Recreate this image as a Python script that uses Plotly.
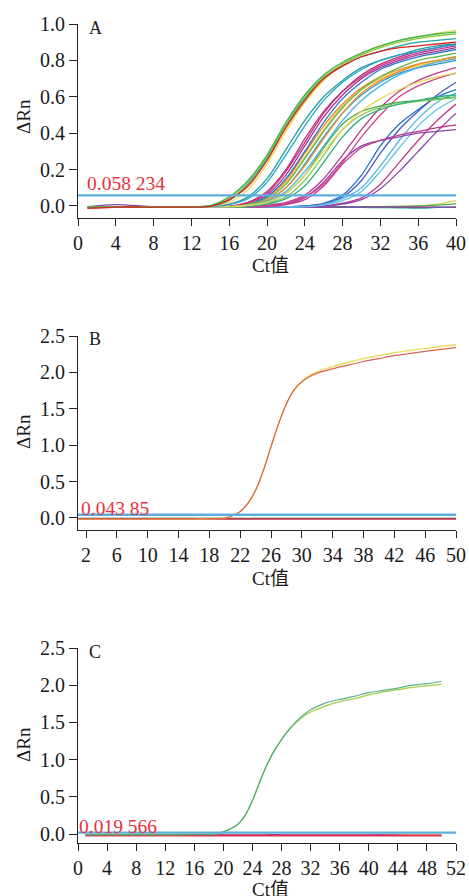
import plotly.graph_objects as go

W, H = 469, 896
OFF = 0

# ---------------- Panel A data ----------------
A_CYCLES = [1, 4, 8, 12, 14, 16, 18, 20, 22, 24, 26, 28, 30, 32, 34, 36, 38, 40]
A_CURVES = [
    # flat (negative) wells
    [-0.010, -0.006, -0.006, -0.006, -0.006, -0.006, -0.006, -0.005, -0.005, -0.005, -0.005, -0.004, -0.004, -0.004, -0.003, 0.000, 0.010, 0.030],
    [-0.006, -0.005, -0.005, -0.005, -0.005, -0.005, -0.005, -0.005, -0.005, -0.005, -0.004, -0.004, -0.004, -0.003, -0.002, 0.000, 0.005, 0.012],
    [-0.012, -0.007, -0.007, -0.008, -0.008, -0.008, -0.008, -0.008, -0.008, -0.008, -0.008, -0.008, -0.008, -0.008, -0.008, -0.008, -0.008, -0.008],
    [-0.005, -0.004, -0.004, -0.005, -0.005, -0.005, -0.005, -0.006, -0.006, -0.006, -0.006, -0.007, -0.008, -0.009, -0.010, -0.012, -0.008, -0.006],
    [-0.004, 0.008, -0.004, -0.005, -0.005, -0.005, -0.005, -0.006, -0.006, -0.006, -0.006, -0.006, -0.006, -0.006, -0.006, -0.006, -0.006, -0.006],
    # latest magenta / purple
    [-0.005, -0.005, -0.005, -0.005, -0.005, -0.005, -0.005, -0.005, -0.005, -0.005, 0.000, 0.015, 0.045, 0.120, 0.240, 0.360, 0.470, 0.560],
    [-0.005, -0.005, -0.005, -0.005, -0.005, -0.005, -0.005, -0.005, -0.005, -0.005, -0.002, 0.010, 0.035, 0.095, 0.190, 0.300, 0.410, 0.510],
    # late blue group
    [-0.005, -0.005, -0.005, -0.005, -0.005, -0.005, -0.005, -0.005, -0.005, 0.000, 0.015, 0.060, 0.170, 0.330, 0.450, 0.530, 0.600, 0.640],
    [-0.005, -0.005, -0.005, -0.005, -0.005, -0.005, -0.005, -0.005, -0.005, 0.000, 0.012, 0.050, 0.140, 0.290, 0.420, 0.520, 0.610, 0.680],
    [-0.005, -0.005, -0.005, -0.005, -0.005, -0.005, -0.005, -0.005, -0.005, -0.004, 0.008, 0.040, 0.100, 0.220, 0.360, 0.480, 0.570, 0.620],
    [-0.005, -0.005, -0.005, -0.005, -0.005, -0.005, -0.005, -0.005, -0.005, -0.004, 0.006, 0.030, 0.080, 0.190, 0.320, 0.440, 0.530, 0.590],
    # 0.4 plateau purple / magenta
    [-0.005, -0.005, -0.005, -0.005, -0.005, -0.005, -0.005, -0.004, 0.010, 0.045, 0.130, 0.250, 0.330, 0.360, 0.380, 0.400, 0.410, 0.420],
    [-0.005, -0.005, -0.005, -0.005, -0.005, -0.005, -0.005, -0.004, 0.008, 0.035, 0.110, 0.230, 0.320, 0.360, 0.390, 0.410, 0.430, 0.445],
    # late magenta
    [-0.005, -0.005, -0.005, -0.005, -0.005, -0.005, -0.004, 0.004, 0.020, 0.060, 0.150, 0.280, 0.420, 0.540, 0.630, 0.690, 0.730, 0.760],
    [-0.005, -0.005, -0.005, -0.005, -0.005, -0.005, -0.004, 0.000, 0.015, 0.050, 0.120, 0.240, 0.380, 0.500, 0.600, 0.660, 0.700, 0.730],
    # green 0.6 plateau
    [-0.005, -0.005, -0.005, -0.005, -0.005, -0.005, 0.000, 0.020, 0.070, 0.170, 0.320, 0.450, 0.520, 0.550, 0.570, 0.580, 0.590, 0.600],
    [-0.005, -0.005, -0.005, -0.005, -0.005, -0.005, -0.002, 0.015, 0.050, 0.140, 0.280, 0.420, 0.500, 0.540, 0.560, 0.575, 0.585, 0.595],
    [-0.005, -0.005, -0.005, -0.005, -0.005, -0.005, -0.003, 0.010, 0.040, 0.110, 0.240, 0.380, 0.480, 0.530, 0.560, 0.580, 0.600, 0.610],
    # middle group
    [-0.005, -0.005, -0.005, -0.005, -0.005, -0.002, 0.020, 0.080, 0.200, 0.370, 0.520, 0.630, 0.710, 0.770, 0.810, 0.840, 0.860, 0.880],
    [-0.005, -0.005, -0.005, -0.005, -0.005, -0.002, 0.015, 0.060, 0.170, 0.330, 0.490, 0.610, 0.700, 0.760, 0.800, 0.830, 0.850, 0.870],
    [-0.005, -0.005, -0.005, -0.005, -0.005, -0.003, 0.010, 0.050, 0.140, 0.290, 0.440, 0.560, 0.650, 0.710, 0.750, 0.780, 0.800, 0.820],
    [-0.005, -0.005, -0.005, -0.005, -0.005, -0.003, 0.010, 0.040, 0.130, 0.270, 0.420, 0.550, 0.640, 0.700, 0.740, 0.770, 0.790, 0.810],
    [-0.005, -0.005, -0.005, -0.005, -0.005, -0.003, 0.010, 0.050, 0.150, 0.300, 0.460, 0.590, 0.680, 0.750, 0.790, 0.820, 0.840, 0.860],
    [-0.005, -0.005, -0.005, -0.005, -0.005, -0.004, 0.005, 0.030, 0.100, 0.230, 0.380, 0.510, 0.610, 0.680, 0.730, 0.760, 0.780, 0.800],
    [-0.005, -0.005, -0.005, -0.005, -0.005, -0.003, 0.010, 0.040, 0.120, 0.260, 0.410, 0.540, 0.640, 0.710, 0.760, 0.800, 0.820, 0.840],
    [-0.005, -0.005, -0.005, -0.005, -0.005, -0.004, 0.005, 0.030, 0.100, 0.220, 0.370, 0.510, 0.620, 0.690, 0.740, 0.780, 0.800, 0.820],
    [-0.005, -0.005, -0.005, -0.005, -0.005, -0.002, 0.020, 0.070, 0.190, 0.350, 0.510, 0.630, 0.720, 0.780, 0.820, 0.850, 0.870, 0.890],
    [-0.005, -0.005, -0.005, -0.005, -0.005, -0.004, 0.004, 0.025, 0.080, 0.190, 0.330, 0.470, 0.580, 0.660, 0.720, 0.760, 0.790, 0.810],
    [-0.005, -0.005, -0.005, -0.005, -0.005, -0.004, 0.004, 0.020, 0.070, 0.170, 0.300, 0.420, 0.520, 0.590, 0.640, 0.680, 0.710, 0.730],
    # early group
    [-0.005, -0.005, -0.005, -0.005, -0.002, 0.010, 0.050, 0.150, 0.310, 0.470, 0.600, 0.690, 0.760, 0.800, 0.830, 0.860, 0.880, 0.890],
    [-0.005, -0.005, -0.005, -0.005, -0.002, 0.008, 0.040, 0.130, 0.280, 0.440, 0.580, 0.680, 0.750, 0.800, 0.830, 0.850, 0.870, 0.885],
    [-0.005, -0.005, -0.005, -0.005, 0.000, 0.020, 0.090, 0.230, 0.410, 0.570, 0.690, 0.780, 0.840, 0.880, 0.910, 0.930, 0.950, 0.965],
    [-0.005, -0.005, -0.005, -0.005, 0.000, 0.030, 0.120, 0.260, 0.440, 0.590, 0.700, 0.770, 0.820, 0.850, 0.880, 0.900, 0.910, 0.920],
    [-0.005, -0.005, -0.005, -0.005, 0.000, 0.040, 0.130, 0.270, 0.450, 0.600, 0.710, 0.780, 0.830, 0.870, 0.900, 0.920, 0.935, 0.945],
    [-0.005, -0.005, -0.005, -0.005, 0.002, 0.050, 0.140, 0.280, 0.460, 0.610, 0.720, 0.790, 0.840, 0.880, 0.910, 0.930, 0.945, 0.955],
    [-0.012, -0.006, -0.006, -0.006, -0.002, 0.035, 0.110, 0.250, 0.430, 0.580, 0.700, 0.770, 0.820, 0.850, 0.870, 0.880, 0.890, 0.900],
]
A_COLORS = [
    "#e6d044", "#45b048", "#e02424", "#1fa3a0", "#8a45a8",
    "#c2388e", "#8a45a8",
    "#1f72c4", "#4a5ac4", "#4fb8e2", "#63c3e4",
    "#8a45a8", "#c2388e",
    "#c2388e", "#d0448a",
    "#45b048", "#86c95a", "#33ad86",
    "#c2388e", "#a53496", "#f08424", "#f0c640", "#1f7ac8", "#2a94d4",
    "#5cb848", "#e8922e", "#c8287a", "#45b4e4", "#e8d452",
    "#1e9e9e", "#2aa0d2", "#e8d848", "#20a49c", "#8dc63f", "#3cb44b", "#e02020",
]
A_THRESHOLD = 0.058234
A_THRESHOLD_LABEL = "0.058 234"
A_XTICKS = [0, 4, 8, 12, 16, 20, 24, 28, 32, 36, 40]
A_YTICKS = [0.0, 0.2, 0.4, 0.6, 0.8, 1.0]

# ---------------- Panel B data ----------------
B_CYCLES = [1, 4, 8, 12, 16, 18, 19, 20, 21, 22, 23, 24, 25, 26, 27, 28, 29, 30, 31, 32,
            34, 36, 38, 40, 42, 44, 46, 48, 50]
B_YELLOW = [-0.010, -0.010, -0.010, -0.010, -0.010, -0.010, -0.008, 0.000, 0.030, 0.090, 0.200, 0.380, 0.650,
            0.980, 1.300, 1.570, 1.760, 1.880, 1.960, 2.010, 2.080, 2.140, 2.190, 2.230, 2.270, 2.300,
            2.330, 2.355, 2.380]
B_RED = [-0.010, -0.010, -0.010, -0.010, -0.010, -0.010, -0.008, 0.000, 0.030, 0.090, 0.200, 0.380, 0.650,
         0.980, 1.300, 1.570, 1.760, 1.870, 1.940, 1.990, 2.050, 2.100, 2.150, 2.190, 2.230, 2.260,
         2.290, 2.315, 2.340]
B_FLAT_RED = [-0.014] * len(B_CYCLES)
B_FLAT_GREEN = [-0.006, -0.006, -0.006, -0.006, -0.006, -0.006, -0.006, -0.006, -0.006, -0.006, -0.006,
                -0.006, -0.006, -0.006, -0.006, -0.006, -0.006, -0.006, -0.006, -0.006, -0.006, -0.006,
                -0.006, -0.004, -0.006, -0.006, -0.006, -0.006, -0.006]
B_FLAT_BLUE = [-0.004, -0.004, -0.004, -0.004, -0.004, -0.004, -0.004, -0.004, -0.004, -0.004, -0.008,
               -0.004, -0.004, -0.004, -0.004, -0.004, -0.004, -0.004, -0.004, -0.004, -0.004, -0.004,
               -0.004, -0.004, -0.004, -0.004, -0.004, -0.004, -0.004]
B_THRESHOLD = 0.04385
B_THRESHOLD_LABEL = "0.043 85"
B_XTICKS = [2, 6, 10, 14, 18, 22, 26, 30, 34, 38, 42, 46, 50]
B_YTICKS = [0.0, 0.5, 1.0, 1.5, 2.0, 2.5]

# ---------------- Panel C data ----------------
C_CYCLES = [1, 4, 8, 12, 16, 18, 19, 20, 21, 22, 23, 24, 25, 26, 27, 28, 29, 30, 31, 32,
            34, 36, 38, 40, 42, 44, 46, 48, 50]
C_TEAL = [-0.008, -0.008, -0.008, -0.008, -0.006, -0.004, 0.000, 0.030, 0.070, 0.130, 0.250, 0.450, 0.700,
          0.930, 1.120, 1.270, 1.400, 1.510, 1.600, 1.670, 1.760, 1.810, 1.850, 1.900, 1.930, 1.960,
          2.000, 2.020, 2.050]
C_LIME = [-0.008, -0.008, -0.008, -0.008, -0.006, -0.004, 0.000, 0.030, 0.070, 0.130, 0.250, 0.450, 0.700,
          0.930, 1.120, 1.270, 1.400, 1.500, 1.580, 1.640, 1.720, 1.780, 1.820, 1.870, 1.910, 1.940,
          1.970, 1.990, 2.010]
C_FLAT_RED = [-0.022] * len(C_CYCLES)
C_FLAT_PURPLE = [-0.010, -0.010, -0.012, -0.012, -0.010, -0.010, -0.010, -0.010, -0.010, -0.010, -0.010,
                 -0.010, -0.010, -0.010, -0.008, -0.010, -0.010, -0.010, -0.010, -0.010, -0.010, -0.012,
                 -0.010, -0.010, -0.010, -0.015, -0.018, -0.018, -0.018]
C_FLAT_YELLOW = [-0.006] * len(C_CYCLES)
C_THRESHOLD = 0.019566
C_THRESHOLD_LABEL = "0.019 566"
C_XTICKS = [0, 4, 8, 12, 16, 20, 24, 28, 32, 36, 40, 44, 48, 52]
C_YTICKS = [0.0, 0.5, 1.0, 1.5, 2.0, 2.5]

# ---------------- layout helpers ----------------
FONT = "Liberation Serif, Times New Roman, Noto Sans CJK SC, serif"
TXT = "#1a1a1a"
THR_COLOR = "#5eaee0"
RED_TXT = "#e8303a"
TICK_SIZE = 20


def px_x(p):
    return (p - OFF) / W


def px_y(p):
    return 1 - (p - OFF) / H


fig = go.Figure()

panels = [
    dict(ax="", x0=78, x1=456, yt=24, yb=218, xr=[0, 40], yr=[-0.066, 1.0],
         xt=A_XTICKS, yt_vals=A_YTICKS),
    dict(ax="2", x0=78, x1=456, yt=336, yb=530, xr=[0.96, 50], yr=[-0.165, 2.5],
         xt=B_XTICKS, yt_vals=B_YTICKS),
    dict(ax="3", x0=78, x1=456, yt=648, yb=843, xr=[0, 52], yr=[-0.121, 2.5],
         xt=C_XTICKS, yt_vals=C_YTICKS),
]

layout = dict(
    width=W, height=H,
    margin=dict(l=0, r=0, t=0, b=0),
    paper_bgcolor="white", plot_bgcolor="white",
    showlegend=False,
    font=dict(family=FONT, size=18, color=TXT),
)

for p in panels:
    xa = "xaxis" + p["ax"]
    ya = "yaxis" + p["ax"]
    layout[xa] = dict(
        domain=[px_x(p["x0"]), px_x(p["x1"])], range=p["xr"],
        anchor="y" + p["ax"], tickmode="array", tickvals=p["xt"],
        ticks="outside", ticklen=7, tickwidth=1, tickcolor="#222",
        showline=True, linecolor="#222", linewidth=1.2,
        showgrid=False, zeroline=False, automargin=False,
        tickfont=dict(family=FONT, size=TICK_SIZE, color=TXT),
    )
    layout[ya] = dict(
        domain=[px_y(p["yb"]), px_y(p["yt"])], range=p["yr"],
        anchor="x" + p["ax"], tickmode="array", tickvals=p["yt_vals"],
        tickformat=".1f",
        ticks="outside", ticklen=8, tickwidth=1, tickcolor="#222",
        showline=True, linecolor="#222", linewidth=1.2,
        showgrid=False, zeroline=False, automargin=False,
        tickfont=dict(family=FONT, size=TICK_SIZE, color=TXT),
    )

fig.update_layout(**layout)

LINE = dict(shape="spline", smoothing=0.8)

# Panel A traces
for vals, col in zip(A_CURVES, A_COLORS):
    fig.add_trace(go.Scatter(x=A_CYCLES, y=vals, mode="lines",
                             line=dict(color=col, width=1.3, **LINE),
                             xaxis="x", yaxis="y", hoverinfo="skip"))
fig.add_trace(go.Scatter(x=[0, 40], y=[A_THRESHOLD, A_THRESHOLD], mode="lines",
                         line=dict(color=THR_COLOR, width=2.2), xaxis="x", yaxis="y"))

# Panel B traces
fig.add_trace(go.Scatter(x=B_CYCLES, y=B_FLAT_GREEN, mode="lines",
                         line=dict(color="#9ccc54", width=1.2, **LINE), xaxis="x2", yaxis="y2"))
fig.add_trace(go.Scatter(x=B_CYCLES, y=B_FLAT_BLUE, mode="lines",
                         line=dict(color="#3a7cc8", width=1.2, **LINE), xaxis="x2", yaxis="y2"))
fig.add_trace(go.Scatter(x=B_CYCLES, y=B_FLAT_RED, mode="lines",
                         line=dict(color="#c8283a", width=1.5, **LINE), xaxis="x2", yaxis="y2"))
fig.add_trace(go.Scatter(x=B_CYCLES, y=B_YELLOW, mode="lines",
                         line=dict(color="#eedc5a", width=1.4, **LINE), xaxis="x2", yaxis="y2"))
fig.add_trace(go.Scatter(x=B_CYCLES, y=B_RED, mode="lines", opacity=0.85,
                         line=dict(color="#d24a3c", width=1.2, **LINE), xaxis="x2", yaxis="y2"))
fig.add_trace(go.Scatter(x=[0.96, 50], y=[B_THRESHOLD, B_THRESHOLD], mode="lines",
                         line=dict(color=THR_COLOR, width=2.4), xaxis="x2", yaxis="y2"))

# Panel C traces
fig.add_trace(go.Scatter(x=C_CYCLES, y=C_FLAT_YELLOW, mode="lines",
                         line=dict(color="#e6d044", width=1.2, **LINE), xaxis="x3", yaxis="y3"))
fig.add_trace(go.Scatter(x=C_CYCLES, y=C_FLAT_PURPLE, mode="lines",
                         line=dict(color="#8a45a8", width=1.2, **LINE), xaxis="x3", yaxis="y3"))
fig.add_trace(go.Scatter(x=C_CYCLES, y=C_FLAT_RED, mode="lines",
                         line=dict(color="#e0305a", width=1.6, **LINE), xaxis="x3", yaxis="y3"))
fig.add_trace(go.Scatter(x=C_CYCLES, y=C_LIME, mode="lines",
                         line=dict(color="#a8cc48", width=1.3, **LINE), xaxis="x3", yaxis="y3"))
fig.add_trace(go.Scatter(x=C_CYCLES, y=C_TEAL, mode="lines", opacity=0.85,
                         line=dict(color="#3aa878", width=1.2, **LINE), xaxis="x3", yaxis="y3"))
fig.add_trace(go.Scatter(x=[0, 52], y=[C_THRESHOLD, C_THRESHOLD], mode="lines",
                         line=dict(color=THR_COLOR, width=2.2), xaxis="x3", yaxis="y3"))

# ---------------- annotations ----------------
ann = []


def add_text(text, xpx, ypx, xanchor="center", color=TXT, size=19, angle=0):
    ann.append(dict(text=text, x=px_x(xpx), y=px_y(ypx), xref="paper", yref="paper",
                    xanchor=xanchor, yanchor="middle", showarrow=False, textangle=angle,
                    font=dict(family=FONT, size=size, color=color)))


# panel letters
add_text("A", 87, 28, xanchor="left", size=18)
add_text("B", 87, 339, xanchor="left", size=18)
add_text("C", 87, 652, xanchor="left", size=18)
# threshold labels
add_text(A_THRESHOLD_LABEL, 85, 184, xanchor="left", color=RED_TXT, size=19.5)
add_text(B_THRESHOLD_LABEL, 79, 508, xanchor="left", color=RED_TXT, size=19.5)
add_text(C_THRESHOLD_LABEL, 77, 826, xanchor="left", color=RED_TXT, size=19.5)
# y titles
add_text("ΔRn", 23, 117, angle=-90)
add_text("ΔRn", 23, 432, angle=-90)
add_text("ΔRn", 23, 745, angle=-90)
# x titles
add_text("Ct值", 270, 265)
add_text("Ct值", 270, 578)
add_text("Ct值", 270, 889)

fig.update_layout(annotations=ann)

# remove the default page margin so the figure fills the window exactly
fig.write_html(
    "out.html",
    config={"displayModeBar": False},
    post_script="document.body.style.margin='0';document.body.style.overflow='hidden';",
)
